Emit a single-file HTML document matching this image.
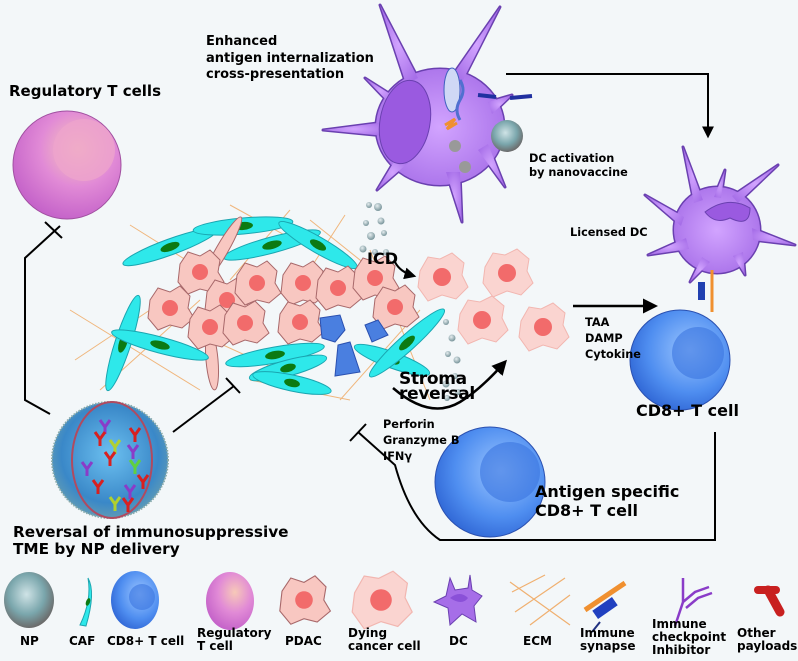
<!DOCTYPE html>
<html><head><meta charset="utf-8"><style>
html,body{margin:0;padding:0;background:#f3f7f9;}
svg{display:block;font-family:"DejaVu Sans","Liberation Sans",sans-serif;font-weight:bold;}
</style></head><body>
<svg width="798" height="661" viewBox="0 0 798 661" xmlns="http://www.w3.org/2000/svg">
<defs>
<radialGradient id="treg" cx="0.6" cy="0.35" r="0.7"><stop offset="0" stop-color="#f7c9b8"/><stop offset="0.5" stop-color="#e18ad6"/><stop offset="1" stop-color="#c25fc8"/></radialGradient>
<radialGradient id="tcell" cx="0.6" cy="0.4" r="0.7"><stop offset="0" stop-color="#9cc6ff"/><stop offset="0.6" stop-color="#4f8ef0"/><stop offset="1" stop-color="#2a5fd0"/></radialGradient>
<radialGradient id="dc" cx="0.5" cy="0.5" r="0.6"><stop offset="0" stop-color="#d2a4ff"/><stop offset="1" stop-color="#a66ee8"/></radialGradient>
<radialGradient id="np" cx="0.45" cy="0.4" r="0.6"><stop offset="0" stop-color="#cfe3e6"/><stop offset="0.6" stop-color="#7aa6ac"/><stop offset="1" stop-color="#6b6b6b"/></radialGradient>
<radialGradient id="npbig" cx="0.5" cy="0.45" r="0.6"><stop offset="0" stop-color="#6cc0f0"/><stop offset="0.7" stop-color="#3a88c8"/><stop offset="1" stop-color="#6aa0b0"/></radialGradient>
<radialGradient id="dot" cx="0.4" cy="0.35" r="0.6"><stop offset="0" stop-color="#e6eef0"/><stop offset="1" stop-color="#7f9aa0"/></radialGradient>
<marker id="ah" viewBox="0 0 10 10" refX="8" refY="5" markerWidth="6" markerHeight="6" orient="auto"><path d="M0,0 L10,5 L0,10 z" fill="#000"/></marker>
<g id="pdac"><path d="M-20,-8 L-12,-20 L0,-16 L10,-22 L20,-12 L18,0 L24,10 L12,20 L0,17 L-12,22 L-22,10 Z" fill="#f8c7c1" stroke="#a8686a" stroke-width="1"/><circle r="8" fill="#f26b6b"/></g>
<g id="dying"><path d="M-22,-6 L-14,-20 L-2,-18 L10,-24 L22,-14 L20,-2 L26,10 L14,22 L0,18 L-14,24 L-24,10 Z" fill="#fad4d0" stroke="#f2b6b0" stroke-width="1"/><circle r="9" fill="#f26b6b"/></g>
<g id="caf"><ellipse rx="50" ry="8" fill="#2ee8ea" stroke="#1aa5b0" stroke-width="1"/><ellipse rx="10" ry="4" fill="#0c7a12"/></g>
<g id="topdc">
<ellipse cx="440" cy="127" rx="64" ry="58"/>
<path d="M380,5 L418,78 L406,84 Z"/><path d="M500,7 L462,82 L452,76 Z"/>
<path d="M323,130 L385,122 L385,136 Z"/><path d="M365,78 L395,97 L390,104 Z"/>
<path d="M377,190 L398,155 L408,163 Z"/><path d="M462,222 L446,172 L460,172 Z"/>
<path d="M505,187 L478,150 L488,144 Z"/><path d="M512,95 L488,102 L492,114 Z"/>
</g>
<g id="licdc">
<circle cx="717" cy="230" r="43"/>
<path d="M683,147 L703,200 L694,203 Z"/><path d="M778,165 L738,203 L732,196 Z"/>
<path d="M795,245 L752,228 L753,240 Z"/><path d="M648,255 L686,238 L689,249 Z"/>
<path d="M690,282 L702,257 L710,262 Z"/><path d="M745,275 L733,256 L743,252 Z"/>
<path d="M645,195 L684,217 L681,226 Z"/><path d="M725,170 L721,198 L714,197 Z"/>
</g>
</defs>

<g stroke="#f0b070" stroke-width="1" opacity="0.9">
<line x1="130" y1="225" x2="250" y2="300"/><line x1="70" y1="310" x2="200" y2="390"/><line x1="75" y1="360" x2="180" y2="290"/><line x1="100" y1="390" x2="200" y2="300"/>
<line x1="230" y1="205" x2="330" y2="260"/><line x1="290" y1="210" x2="230" y2="280"/><line x1="310" y1="220" x2="410" y2="300"/><line x1="345" y1="215" x2="290" y2="300"/>
<line x1="370" y1="250" x2="430" y2="400"/><line x1="420" y1="310" x2="340" y2="400"/><line x1="250" y1="380" x2="350" y2="400"/><line x1="190" y1="330" x2="300" y2="380"/>
</g>

<use href="#caf" transform="translate(170,247) rotate(-20)"/>
<use href="#caf" transform="translate(243,226) rotate(-5)"/>
<use href="#caf" transform="translate(272,245) rotate(-15)"/>
<use href="#caf" transform="translate(318,245) rotate(30) scale(0.9,1)"/>
<ellipse cx="222" cy="250" rx="38" ry="6" fill="#f8c7c1" stroke="#a8686a" transform="rotate(-60 222 250)"/>
<ellipse cx="212" cy="360" rx="30" ry="6" fill="#f8c7c1" stroke="#a8686a" transform="rotate(85 212 360)"/>

<use href="#pdac" transform="translate(200,272)"/>
<use href="#pdac" transform="translate(170,308)"/>
<use href="#pdac" transform="translate(227,300)"/>
<use href="#pdac" transform="translate(257,283)"/>
<use href="#pdac" transform="translate(210,327)"/>
<use href="#pdac" transform="translate(245,323)"/>
<use href="#pdac" transform="translate(303,283)"/>
<use href="#pdac" transform="translate(338,288)"/>
<use href="#pdac" transform="translate(300,322)"/>
<use href="#pdac" transform="translate(375,278)"/>
<use href="#pdac" transform="translate(395,307)"/>

<use href="#caf" transform="translate(123,343) rotate(-72)"/>
<use href="#caf" transform="translate(160,345) rotate(15)"/>
<use href="#caf" transform="translate(275,355) rotate(-10)"/>
<use href="#caf" transform="translate(288,368) rotate(-15) scale(0.8,1)"/>
<use href="#caf" transform="translate(292,383) rotate(12) scale(0.8,1)"/>
<use href="#caf" transform="translate(392,360) rotate(20) scale(0.8,1)"/>
<use href="#caf" transform="translate(407,343) rotate(-42)"/>

<g fill="#4a7fe0" stroke="#2a50b0">
<path d="M320,318 L340,315 L345,330 L335,342 L322,338 Z"/>
<path d="M365,325 L378,320 L388,335 L372,342 Z"/>
<path d="M338,345 L350,342 L360,372 L335,376 Z"/>
</g>

<use href="#dying" transform="translate(442,277)"/>
<use href="#dying" transform="translate(507,273)"/>
<use href="#dying" transform="translate(482,320)"/>
<use href="#dying" transform="translate(543,327)"/>

<g fill="url(#dot)">
<circle cx="369" cy="205" r="3"/><circle cx="378" cy="207" r="4"/><circle cx="366" cy="223" r="3"/><circle cx="381" cy="221" r="3.5"/><circle cx="371" cy="236" r="4"/><circle cx="384" cy="233" r="3"/><circle cx="363" cy="249" r="3.5"/><circle cx="375" cy="252" r="3"/><circle cx="386" cy="252" r="3"/>
<circle cx="446" cy="322" r="3"/><circle cx="452" cy="338" r="3.5"/><circle cx="448" cy="354" r="3"/><circle cx="457" cy="360" r="3.5"/><circle cx="455" cy="376" r="3"/><circle cx="446" cy="384" r="3.5"/><circle cx="458" cy="392" r="3"/><circle cx="447" cy="398" r="3"/>
</g>

<path d="M395,262 Q400,272 414,276" fill="none" stroke="#000" stroke-width="2" marker-end="url(#ah)"/>
<text x="367" y="264" font-size="16">ICD</text>
<path d="M393,388 Q430,420 460,402 Q480,390 505,362" fill="none" stroke="#000" stroke-width="2.5" marker-end="url(#ah)"/>
<text x="399" y="384" font-size="17" letter-spacing="-0.3">Stroma</text>
<text x="399" y="399" font-size="17" letter-spacing="-0.3">reversal</text>

<circle cx="67" cy="165" r="54" fill="url(#treg)" stroke="#a050a0"/>
<circle cx="84" cy="150" r="31" fill="#eea4cc" opacity="0.8"/>
<text x="9" y="96" font-size="15">Regulatory T cells</text>
<path d="M60,226 L25,258 L25,400 L50,414" fill="none" stroke="#000" stroke-width="2"/>
<line x1="45" y1="222" x2="62" y2="238" stroke="#000" stroke-width="2"/>

<circle cx="110" cy="460" r="58" fill="url(#npbig)" stroke="#8aa" stroke-width="2" stroke-dasharray="1.5 1.5"/>
<ellipse cx="112" cy="460" rx="40" ry="58" fill="none" stroke="#b04a60" stroke-width="2"/>
<g stroke-width="3" fill="none">
<path d="M100,420 l5,7 l5,-7 M105,427 v7" stroke="#8a3cc8"/>
<path d="M130,428 l5,7 l5,-7 M135,435 v7" stroke="#d82020"/>
<path d="M110,440 l5,7 l5,-7 M115,447 v7" stroke="#b0d030"/>
<path d="M95,432 l5,7 l5,-7 M100,439 v7" stroke="#d82020"/>
<path d="M128,445 l5,7 l5,-7 M133,452 v7" stroke="#8a3cc8"/>
<path d="M105,452 l5,7 l5,-7 M110,459 v7" stroke="#d82020"/>
<path d="M82,462 l5,7 l5,-7 M87,469 v7" stroke="#8a3cc8"/>
<path d="M130,460 l5,7 l5,-7 M135,467 v7" stroke="#60d040"/>
<path d="M93,480 l5,7 l5,-7 M98,487 v7" stroke="#d82020"/>
<path d="M138,475 l5,7 l5,-7 M143,482 v7" stroke="#d82020"/>
<path d="M125,485 l5,7 l5,-7 M130,492 v7" stroke="#8a3cc8"/>
<path d="M110,497 l5,7 l5,-7 M115,504 v7" stroke="#b0d030"/>
<path d="M123,498 l5,7 l5,-7 M128,505 v7" stroke="#d82020"/>
</g>
<line x1="173" y1="432" x2="234" y2="386" stroke="#000" stroke-width="2"/>
<line x1="226" y1="378" x2="240" y2="393" stroke="#000" stroke-width="2"/>
<text x="13" y="537" font-size="15.3">Reversal of immunosuppressive</text>
<text x="13" y="554" font-size="15.3">TME by NP delivery</text>

<use href="#topdc" fill="#6a40b0" stroke="#6a40b0" stroke-width="3" stroke-linejoin="round"/>
<use href="#topdc" fill="url(#dc)"/>
<ellipse cx="405" cy="122" rx="25" ry="42" fill="#9a5ae0" stroke="#6a40b0" transform="rotate(10 405 122)"/>
<ellipse cx="452" cy="90" rx="8" ry="22" fill="#cfd8f5" stroke="#4060c0"/>
<path d="M460,80 q6,10 0,20 q-6,10 0,20" stroke="#5070d0" stroke-width="3" fill="none"/>
<circle cx="455" cy="146" r="6" fill="#999"/><circle cx="465" cy="167" r="6" fill="#999"/>
<path d="M445,125 l10,-6 l-8,10 l10,-6" stroke="#f09030" stroke-width="3" fill="none"/>
<circle cx="507" cy="136" r="16" fill="url(#np)"/>
<path d="M478,95 l18,2 M510,98 l22,-2" stroke="#2030a0" stroke-width="4"/>
<text x="206" y="45" font-size="13">Enhanced</text>
<text x="206" y="62" font-size="13">antigen internalization</text>
<text x="206" y="78" font-size="13">cross-presentation</text>
<text x="529" y="162" font-size="11.3">DC activation</text>
<text x="529" y="176" font-size="11.3">by nanovaccine</text>
<path d="M506,74 L708,74 L708,136" fill="none" stroke="#000" stroke-width="2" marker-end="url(#ah)"/>

<use href="#licdc" fill="#6a40b0" stroke="#6a40b0" stroke-width="3" stroke-linejoin="round"/>
<use href="#licdc" fill="url(#dc)"/>
<path d="M705,212 Q728,195 750,208 Q750,228 730,218 Q715,225 705,212 Z" fill="#9a5ae0" stroke="#6a40b0"/>
<text x="570" y="236" font-size="11.3">Licensed DC</text>
<line x1="712" y1="270" x2="712" y2="312" stroke="#f09030" stroke-width="3"/>
<rect x="698" y="282" width="7" height="18" fill="#2040b0"/>

<circle cx="680" cy="360" r="50" fill="url(#tcell)" stroke="#2a50b0"/>
<circle cx="698" cy="353" r="26" fill="#3a74e0" opacity="0.6"/>
<text x="636" y="416" font-size="16">CD8+ T cell</text>
<line x1="573" y1="306" x2="655" y2="306" stroke="#000" stroke-width="2.5" marker-end="url(#ah)"/>
<text x="585" y="326" font-size="11.3">TAA</text>
<text x="585" y="342" font-size="11.3">DAMP</text>
<text x="585" y="358" font-size="11.3">Cytokine</text>

<circle cx="490" cy="482" r="55" fill="url(#tcell)" stroke="#2a50b0"/>
<circle cx="510" cy="472" r="30" fill="#3a74e0" opacity="0.6"/>
<text x="535" y="497" font-size="16">Antigen specific</text>
<text x="535" y="516" font-size="16">CD8+ T cell</text>
<path d="M715,432 L715,540 L440,540 Q410,520 395,465 L358,432" fill="none" stroke="#000" stroke-width="2"/>
<line x1="350" y1="441" x2="366" y2="424" stroke="#000" stroke-width="2"/>
<text x="383" y="428" font-size="11.3">Perforin</text>
<text x="383" y="444" font-size="11.3">Granzyme B</text>
<text x="383" y="460" font-size="11.3">IFNγ</text>

<ellipse cx="29" cy="600" rx="25" ry="28" fill="url(#np)"/>
<path d="M80,625 Q92,600 88,578 Q96,592 86,626 Z" fill="#2ee8ea" stroke="#1aa5b0"/>
<ellipse cx="88" cy="602" rx="4" ry="2" fill="#0c7a12" transform="rotate(-70 88 602)"/>
<ellipse cx="135" cy="600" rx="24" ry="29" fill="url(#tcell)"/>
<circle cx="142" cy="597" r="13" fill="#3a74e0" opacity="0.6"/>
<ellipse cx="230" cy="601" rx="24" ry="29" fill="url(#treg)"/>
<use href="#pdac" transform="translate(304,600) scale(1.1)"/>
<use href="#dying" transform="translate(381,600) scale(1.2)"/>
<g fill="#a66ee8" stroke="#6a40b0"><path d="M450,578 L455,590 L468,588 L470,575 L472,590 L482,596 L474,606 L476,622 L462,614 L450,625 L448,608 L434,602 L446,596 Z"/></g>
<path d="M450,598 Q460,590 468,598 Q462,606 450,598Z" fill="#8a50d8"/>
<g stroke="#f0b070" stroke-width="1.2"><line x1="510" y1="582" x2="570" y2="625"/><line x1="515" y1="612" x2="565" y2="578"/><line x1="530" y1="625" x2="570" y2="595"/><line x1="512" y1="592" x2="545" y2="575"/></g>
<line x1="585" y1="610" x2="625" y2="583" stroke="#f09030" stroke-width="5"/>
<rect x="593" y="603" width="24" height="10" fill="#2040c0" transform="rotate(-35 605 608)"/>
<path d="M600,622 l-8,10" stroke="#203080" stroke-width="2"/>
<path d="M683,578 v24 l-8,24 M683,602 l12,-10 l14,-5 M686,608 l12,-10 l14,-5" stroke="#8a3cc8" stroke-width="2.5" fill="none"/>
<path d="M768,590 l12,22" stroke="#c82020" stroke-width="9" stroke-linecap="round"/>
<path d="M758,590 h18" stroke="#c82020" stroke-width="8" stroke-linecap="round"/>
<g font-size="12">
<text x="20" y="645">NP</text><text x="69" y="645">CAF</text><text x="107" y="645">CD8+ T cell</text>
<text x="197" y="637">Regulatory</text><text x="197" y="650">T cell</text>
<text x="285" y="645">PDAC</text>
<text x="348" y="637">Dying</text><text x="348" y="650">cancer cell</text>
<text x="449" y="645">DC</text><text x="523" y="645">ECM</text>
<text x="580" y="637">Immune</text><text x="580" y="650">synapse</text>
<text x="652" y="628">Immune</text><text x="652" y="641">checkpoint</text><text x="652" y="654">Inhibitor</text>
<text x="737" y="637">Other</text><text x="737" y="650">payloads</text>
</g>
</svg>
</body></html>
